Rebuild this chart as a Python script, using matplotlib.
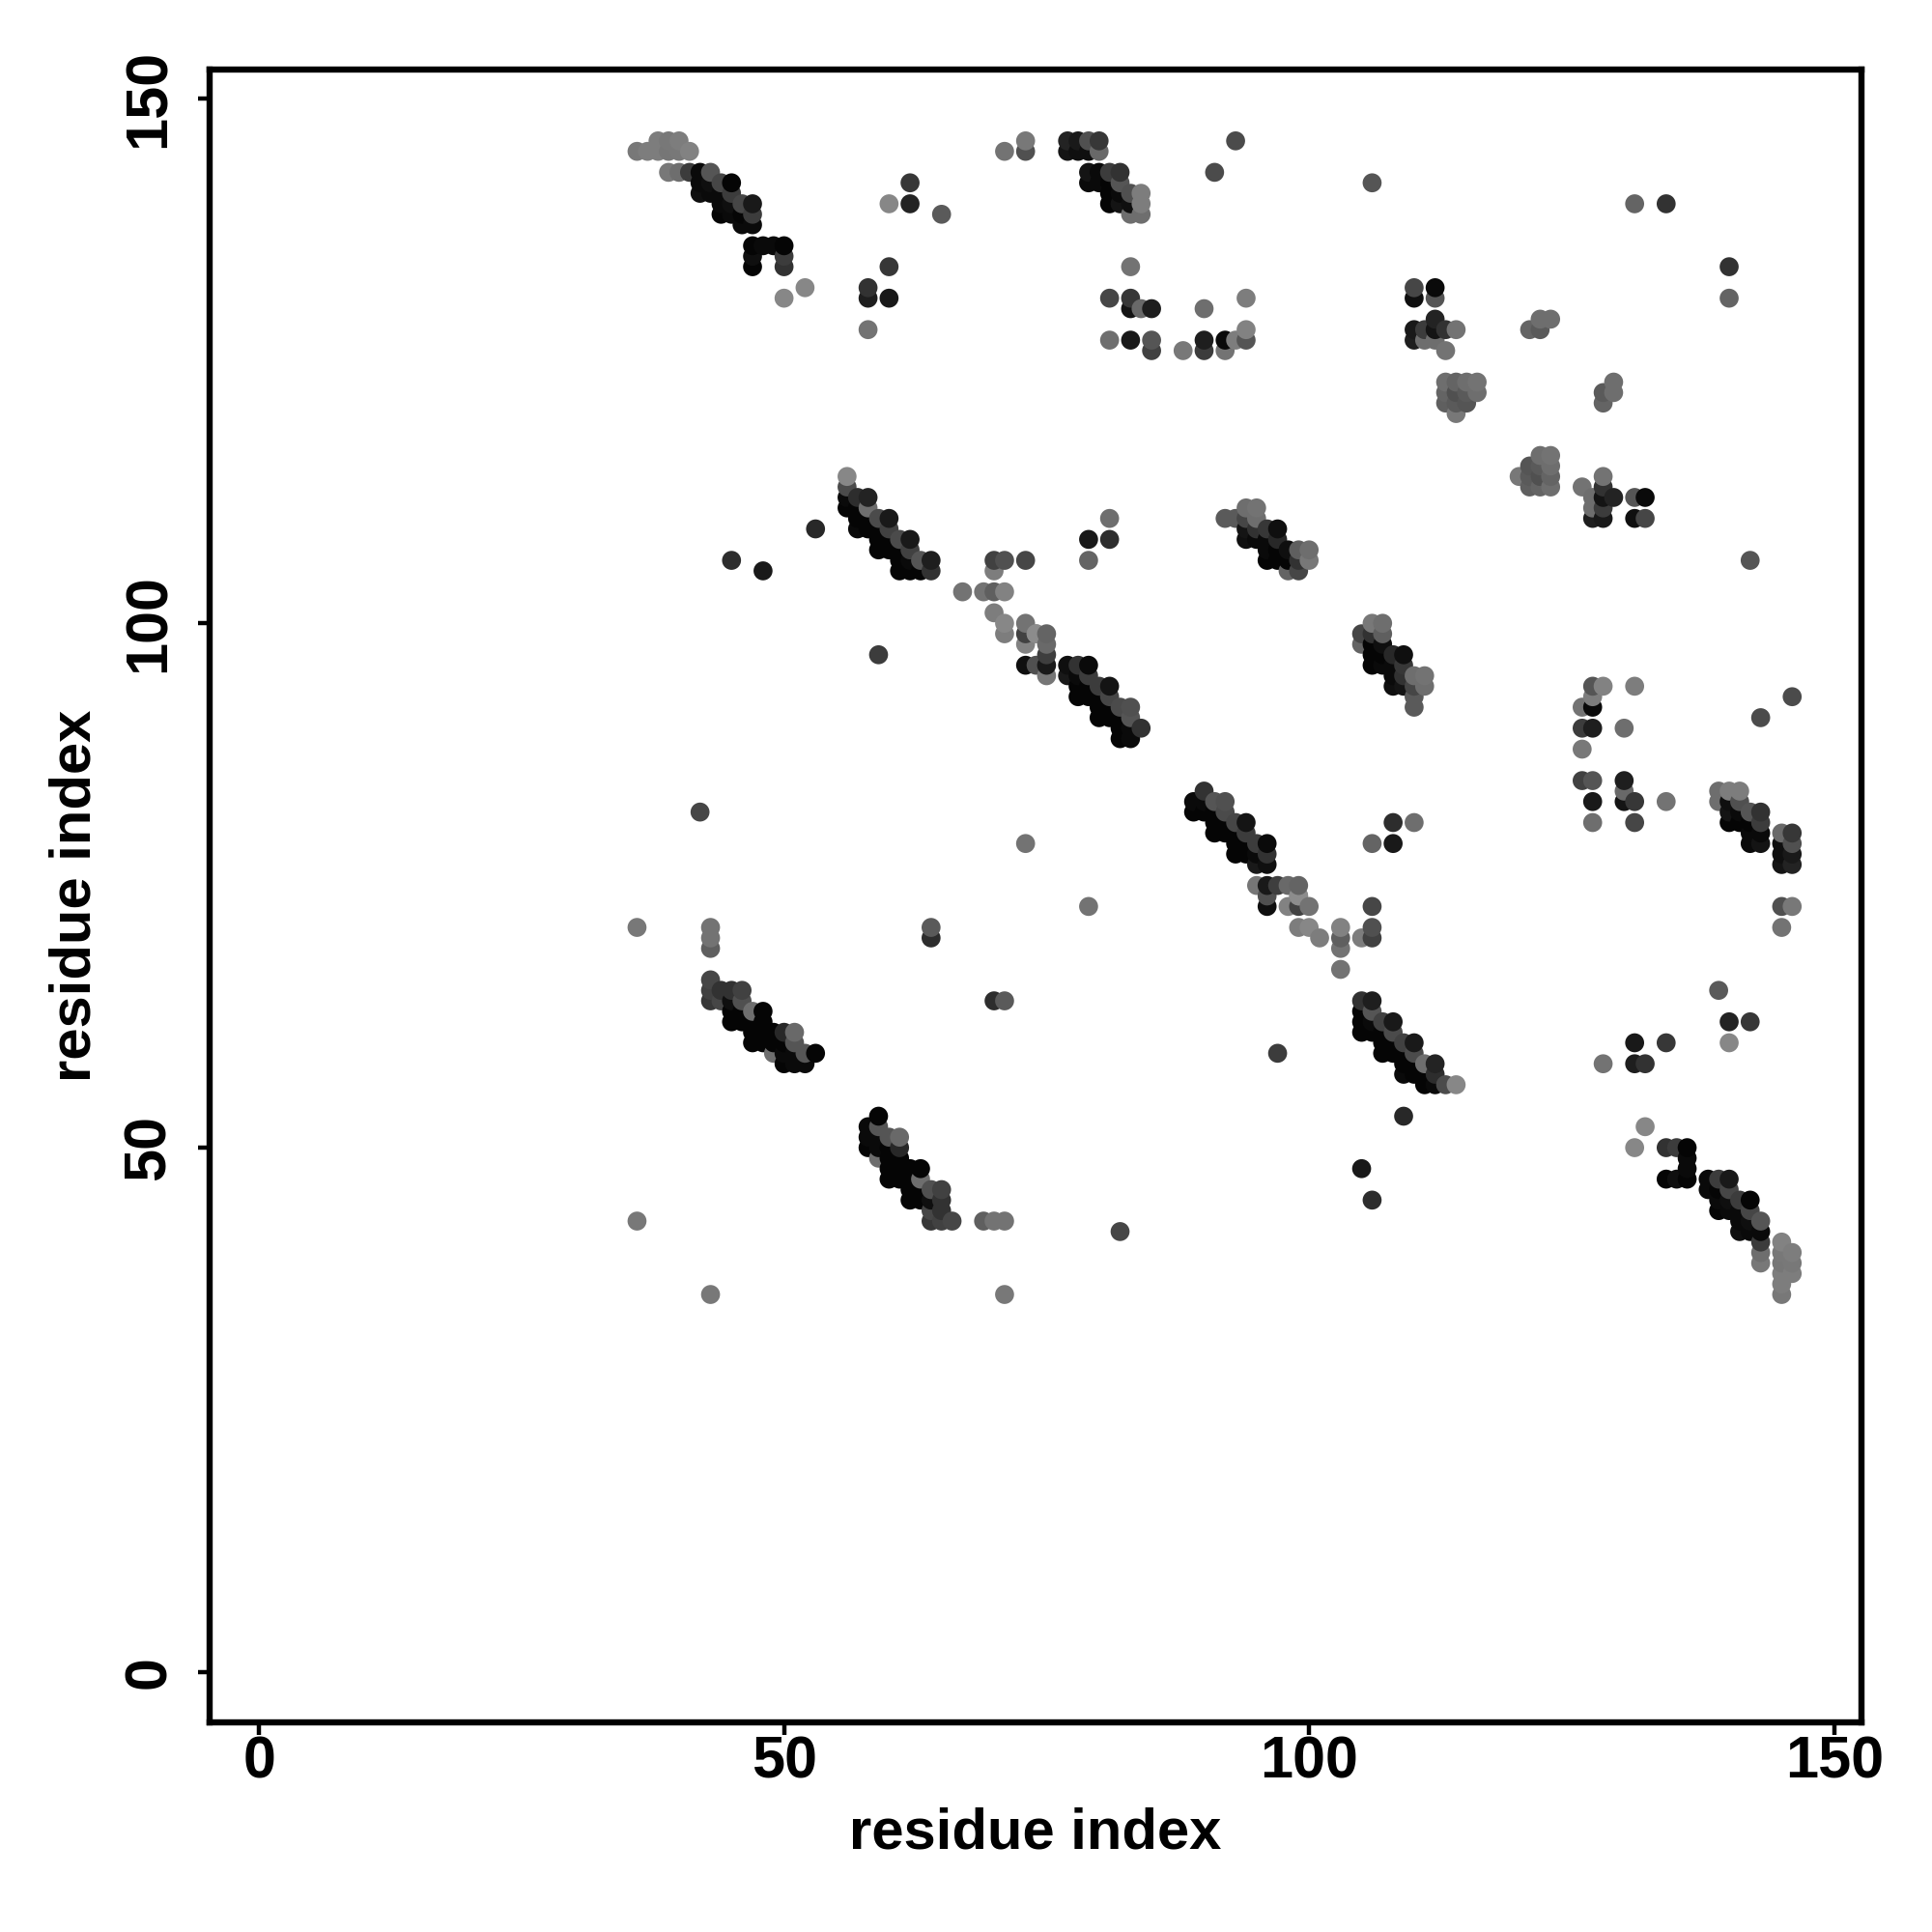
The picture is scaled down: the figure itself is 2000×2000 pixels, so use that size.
"""Residue contact map, symmetric, grey = contact strength."""
import matplotlib
matplotlib.use("Agg")
import matplotlib.pyplot as plt
import numpy as np

# only the i < j half is listed, the other half is its mirror
# grey levels are 0-255

# strand 36-53 against 134-146
a_i = [36, 37, 38, 39, 40, 41,
       38, 39, 40,
       39, 40, 41, 42, 43,
       42, 43, 44, 45,
       42, 43, 44, 45,
       44, 45, 46, 47,
       44, 45, 46, 47,
       46, 47,
       47, 48, 49, 50,
       47, 50,
       47, 50,
       52, 50]
a_j = [145, 145, 145, 145, 145, 145,
       146, 146, 146,
       143, 143, 143, 143, 143,
       142, 142, 142, 142,
       141, 141, 141, 141,
       140, 140, 140, 140,
       139, 139, 139, 139,
       138, 138,
       136, 136, 136, 136,
       135, 135,
       134, 134,
       132, 131]
a_grey = [120, 125, 125, 118, 120, 130,
          125, 120, 125,
          120, 110, 60, 10, 85,
          10, 15, 70, 5,
          15, 10, 10, 60,
          10, 15, 70, 25,
          5, 10, 5, 60,
          10, 10,
          5, 10, 10, 5,
          15, 60,
          5, 50,
          135, 135]

# strand 77-85 against 139-146
b_i = [77, 78, 79, 80,
       77, 78, 79, 80,
       79, 80, 81, 82,
       79, 80, 81, 82,
       81, 82, 83, 84,
       81, 82, 83, 84,
       83, 84]
b_j = [146, 146, 146, 146,
       145, 145, 145, 145,
       143, 143, 143, 143,
       142, 142, 142, 142,
       141, 141, 141, 141,
       140, 140, 140, 140,
       139, 139]
b_grey = [35, 25, 80, 55,
          20, 15, 15, 105,
          20, 10, 60, 50,
          10, 10, 5, 85,
          5, 10, 80, 125,
          5, 20, 15, 125,
          110, 110]

# strand 56-64 against 105-114
c_i = [56, 56, 56, 57, 58, 56, 57, 58,
       57, 58, 59, 60,
       57, 58, 59, 60,
       59, 60, 61, 62,
       59, 60, 61, 62,
       61, 62, 63, 64,
       61, 62, 63, 64]
c_j = [114, 113, 112, 112, 112, 111, 111, 111,
       110, 110, 110, 110,
       109, 109, 109, 109,
       108, 108, 108, 108,
       107, 107, 107, 107,
       106, 106, 106, 106,
       105, 105, 105, 105]
c_grey = [135, 75, 10, 45, 35, 5, 5, 110,
          5, 5, 75, 25,
          10, 5, 5, 65,
          5, 5, 75, 25,
          5, 5, 5, 65,
          5, 10, 85, 30,
          5, 5, 5, 50]

# strand 77-84 against 89-96
d_i = [77, 78, 79, 77, 78, 79,
       78, 79, 80, 81,
       78, 79, 80, 81,
       80, 81, 82, 83,
       80, 81, 82, 83,
       82, 83, 84,
       82, 83]
d_j = [96, 96, 96, 95, 95, 95,
       94, 94, 94, 94,
       93, 93, 93, 93,
       92, 92, 92, 92,
       91, 91, 91, 91,
       90, 90, 90,
       89, 89]
d_grey = [15, 50, 10, 25, 10, 60,
          5, 5, 60, 20,
          5, 5, 5, 70,
          5, 5, 75, 80,
          5, 5, 5, 85,
          5, 10, 50,
          5, 10]

# strand 92-100 against 105-111
e_i = [94, 95,
       92, 93, 94, 95,
       94, 95, 96, 97,
       94, 95, 96, 97,
       96, 97, 98, 99, 100,
       96, 97, 98, 99, 100,
       98, 99]
e_j = [111, 111,
       110, 110, 110, 110,
       109, 109, 109, 109,
       108, 108, 108, 108,
       107, 107, 107, 107, 107,
       106, 106, 106, 106, 106,
       105, 105]
e_grey = [110, 115,
          90, 90, 70, 110,
          20, 50, 55, 15,
          15, 10, 10, 40,
          10, 5, 15, 95, 110,
          5, 5, 5, 50, 120,
          100, 70]

# strand 43-53 against 58-66
f_i = [43, 43, 43, 44, 44,
       45, 45, 45, 45,
       46, 46, 46, 46,
       47, 47, 47, 47,
       48, 48, 48, 48,
       49, 49, 49,
       50, 50, 50, 50,
       51, 51, 51, 51,
       52, 52, 53]
f_j = [66, 65, 64, 65, 64,
       65, 64, 63, 62,
       65, 64, 63, 62,
       63, 62, 61, 60,
       63, 62, 61, 60,
       61, 60, 59,
       61, 60, 59, 58,
       61, 60, 59, 58,
       59, 58, 59]
f_grey = [70, 65, 55, 50, 70,
          50, 15, 5, 5,
          65, 80, 5, 5,
          110, 5, 5, 5,
          5, 5, 5, 5,
          5, 5, 110,
          40, 5, 10, 5,
          105, 85, 10, 10,
          85, 10, 5]

# the short stretch around 67-75 against 95-106
g_i = [70, 71, 73, 70,
       67, 69, 70, 71,
       70, 71, 71,
       73, 73, 73, 73,
       74, 74, 75, 75, 75, 75, 75,
       74]
g_j = [106, 106, 106, 105,
       103, 103, 103, 103,
       101, 100, 99,
       100, 99, 98, 96,
       99, 96, 99, 98, 97, 96, 95,
       99]
g_grey = [65, 80, 70, 125,
          115, 115, 95, 130,
          125, 135, 125,
          115, 65, 130, 15,
          125, 80, 100, 105, 62, 25, 118,
          140]

# tight group 110-116 against 120-132
h_i = [110, 112, 110, 112, 112,
       110, 111, 112, 113, 114,
       110, 111, 112, 113,
       113, 114, 115, 116,
       113, 114, 115, 116,
       113, 114, 115, 114,
       121, 122, 122, 123]
h_j = [132, 132, 131, 131, 129,
       128, 128, 128, 128, 128,
       127, 127, 127, 126,
       123, 123, 123, 123,
       122, 122, 122, 122,
       121, 121, 121, 120,
       128, 128, 129, 129]
h_grey = [70, 10, 15, 85, 35,
          25, 60, 20, 50, 115,
          30, 110, 110, 115,
          110, 100, 110, 115,
          100, 80, 90, 110,
          95, 90, 85, 120,
          100, 90, 110, 110]

# isolated contacts
k_i = [60, 60, 60, 58, 58, 58, 62, 62, 65, 71, 73, 73,
       106, 131, 134, 93, 91, 83,
       81, 83, 94, 83, 84, 85, 90,
       81, 83, 85, 90, 92, 93, 94, 94,
       85, 88, 90, 92,
       53, 59, 79, 79, 81, 81,
       42, 36, 43, 43, 43, 36, 45, 48, 64, 64, 73]
k_j = [140, 134, 131, 132, 131, 128, 142, 140, 139, 145, 146, 145,
       142, 140, 140, 146, 143, 134,
       131, 131, 131, 130, 130, 130, 130,
       127, 127, 127, 127, 127, 127, 127, 128,
       126, 126, 126, 126,
       109, 97, 108, 106, 108, 110,
       82, 71, 71, 70, 69, 43, 106, 105, 71, 70, 79]
k_grey = [135, 55, 25, 50, 30, 115, 55, 35, 90, 115, 120, 80,
          85, 100, 50, 75, 75, 115,
          70, 55, 125, 20, 105, 30, 110,
          110, 25, 85, 30, 10, 125, 85, 130,
          65, 120, 60, 115,
          40, 60, 25, 100, 45, 110,
          70, 120, 115, 115, 95, 120, 45, 25, 90, 45, 115]

i_half = np.array(a_i + b_i + c_i + d_i + e_i + f_i + g_i + h_i + k_i)
j_half = np.array(a_j + b_j + c_j + d_j + e_j + f_j + g_j + h_j + k_j)
grey_half = np.array(a_grey + b_grey + c_grey + d_grey + e_grey + f_grey
                     + g_grey + h_grey + k_grey)

# mirror, then draw column by column so later dots sit on earlier ones
xs = np.concatenate([i_half, j_half])
ys = np.concatenate([j_half, i_half])
greys = np.concatenate([grey_half, grey_half]) / 255.0
order = np.lexsort((ys, xs))

plt.rcParams["font.family"] = ["Liberation Sans", "DejaVu Sans"]
plt.rcParams["font.weight"] = "bold"

fig = plt.figure(figsize=(10, 10), dpi=200, facecolor="white")
ax = fig.add_axes([217 / 2000, 1 - 1783 / 2000, 1710 / 2000, 1711 / 2000])

ax.scatter(xs[order], ys[order], c=greys[order], cmap="gray", vmin=0, vmax=1,
           s=50, linewidths=0, zorder=3)

ax.set_xlim(-4.7, 152.6)
ax.set_ylim(-4.8, 152.8)
ax.set_xticks([0, 50, 100, 150])
ax.set_yticks([0, 50, 100, 150])
ax.tick_params(axis="both", length=4.5, width=1.6, labelsize=22, pad=0.5)
ax.tick_params(axis="y", labelrotation=90, pad=7.5)
for lab in ax.get_yticklabels():
    lab.set_va("center")
for s in ax.spines.values():
    s.set_linewidth(2.3)

ax.set_xlabel("residue index", fontsize=21.5, fontweight="bold", labelpad=6)
ax.set_ylabel("residue index", fontsize=21.5, fontweight="bold", labelpad=7.5)

fig.savefig("out.png", dpi=200, facecolor="white")
plt.close(fig)
